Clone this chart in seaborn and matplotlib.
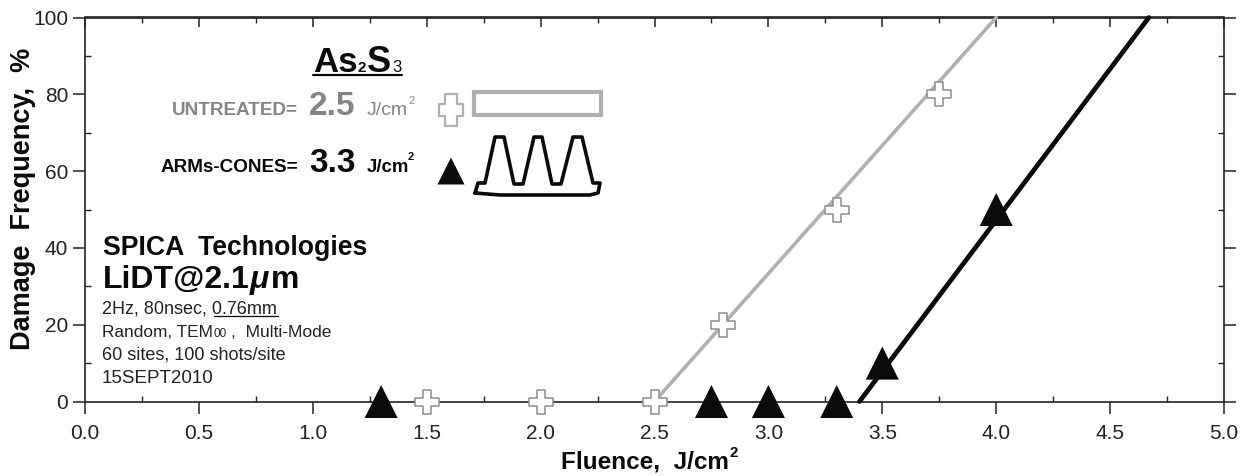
import matplotlib
matplotlib.use("Agg")
import matplotlib.pyplot as plt
import seaborn as sns
from matplotlib.patches import Rectangle
from matplotlib.path import Path

W, H = 1251, 476

# points
untreated_x = [1.5, 2.0, 2.5, 2.8, 3.3, 3.75]
untreated_y = [0, 0, 0, 20, 50, 80]
cones_x = [1.3, 2.75, 3.0, 3.3, 3.5, 4.0]
cones_y = [0, 0, 0, 0, 10, 50]

# straight fits
untreated_fit_x = [2.5, 4.0]
untreated_fit_y = [0, 100]
cones_fit_x = [3.4, 4.67]
cones_fit_y = [0, 100]

x_major = [0.0, 0.5, 1.0, 1.5, 2.0, 2.5, 3.0, 3.5, 4.0, 4.5, 5.0]
x_minor = [0.25, 0.75, 1.25, 1.75, 2.25, 2.75, 3.25, 3.75, 4.25, 4.75]
y_major = [0, 20, 40, 60, 80, 100]
y_minor = [10, 30, 50, 70, 90]

GRAY = "#b0b0b0"
GRAY_TEXT = "#858585"
BLACK = "#0a0a0a"

sns.set_style("ticks")
plt.rcParams["font.family"] = ["Liberation Sans", "DejaVu Sans"]

fig = plt.figure(figsize=(W / 100, H / 100), dpi=100)
ax = fig.add_axes([85 / W, 1 - 401.5 / H, (1224 - 85) / W, (401.5 - 17.5) / H])


def put(x, y, s, size, weight="normal", color=BLACK, **kw):
    # x, y are picture pixels, y is the text baseline
    return fig.text(x / W, 1 - y / H, s, fontsize=size, fontweight=weight, color=color,
                    va="baseline", ha=kw.pop("ha", "left"), **kw)


def rule(x0, x1, y, lw=1.0, color=BLACK):
    fig.add_artist(plt.Line2D([x0 / W, x1 / W], [1 - y / H, 1 - y / H], lw=lw, color=color))


# fits
sns.lineplot(x=untreated_fit_x, y=untreated_fit_y, color=GRAY, lw=2.6, ax=ax, zorder=3,
             errorbar=None, clip_on=False)
sns.lineplot(x=cones_fit_x, y=cones_fit_y, color=BLACK, lw=3.4, ax=ax, zorder=3,
             errorbar=None, clip_on=False)

# points
sns.scatterplot(x=untreated_x, y=untreated_y, marker="P", s=300, color="white", edgecolor="#959595",
                linewidth=1.2, ax=ax, zorder=5, clip_on=False)
sns.scatterplot(x=cones_x, y=cones_y, marker="^", s=566, color=BLACK, edgecolor="none",
                ax=ax, zorder=6, clip_on=False)

ax.set_xlim(0, 5)
ax.set_ylim(0, 100)
ax.set_xticks(x_major)
ax.set_xticks(x_minor, minor=True)
ax.set_yticks(y_major)
ax.set_yticks(y_minor, minor=True)
ax.set_xticklabels([f"{v:.1f}" for v in x_major])

ax.tick_params(axis="both", which="major", direction="out", length=8.5, width=1.1, labelsize=15,
               left=True, bottom=True, right=True, top=False, colors="#222222")
ax.tick_params(axis="x", which="major", pad=8)
ax.tick_params(which="minor", direction="in", length=4.5, width=1.0,
               left=True, bottom=True, right=True, top=False, color="#222222")
for side in ax.spines:
    ax.spines[side].set_linewidth(1.2)
    ax.spines[side].set_color("#222222")

# top axis has all its ticks pointing inwards
top = ax.secondary_xaxis("top")
top.set_xticks(x_major)
top.set_xticks(x_minor, minor=True)
top.tick_params(which="major", direction="in", length=7, width=1.1, labeltop=False, color="#222222")
top.tick_params(which="minor", direction="in", length=4.5, width=1.0, color="#222222")
top.spines["top"].set_linewidth(1.2)
top.spines["top"].set_color("#222222")

ax.set_ylabel("Damage  Frequency,  %", fontsize=19.5, fontweight="bold", color=BLACK)
ax.yaxis.set_label_coords((36 - 85) / (1224 - 85), (401.5 - 199) / 384)
put(561, 469, "Fluence,  J/cm", 17.5, "bold")
put(730, 457, "2", 11, "bold")

# title
put(313, 72, "As", 25, "bold")
put(357, 72, "2", 11, "bold")
put(367, 72, "S", 26, "bold")
put(392, 72, "3", 12)
rule(313, 402, 74.5, lw=1.6)

# legend rows
put(172, 115, "UNTREATED=", 13.6, "bold", GRAY_TEXT)
put(309, 115, "2.5", 24, "bold", GRAY_TEXT)
put(367, 115, "J/cm", 14, "normal", GRAY_TEXT)
put(408, 104, "2", 8, "normal", GRAY_TEXT)
put(161, 172, "ARMs-CONES=", 13.6, "bold")
put(309, 172, "3.3", 24, "bold")
put(367, 172, "J/cm", 13.4, "bold")
put(408, 160, "2", 8, "bold")

# legend keys, the cross is a bit taller than wide in the original
tall_cross = Path([(-2, -5.4), (2, -5.4), (2, -2), (4, -2), (4, 2), (2, 2),
                   (2, 5.4), (-2, 5.4), (-2, 2), (-4, 2), (-4, -2), (-2, -2), (-2, -5.4)],
                  closed=True)
ax.scatter([(451 - 85) / 227.8], [(401.5 - 110) / 3.84], marker=tall_cross, s=500, color="white",
           edgecolor=GRAY, linewidth=1.6, zorder=5)
ax.scatter([(451 - 85) / 227.8], [(401.5 - 171) / 3.84], marker="^", s=378, color=BLACK,
           edgecolor="none", zorder=5)

# sketches of the two surfaces
fig.add_artist(Rectangle((474 / W, 1 - 115 / H), 127 / W, 23 / H, transform=fig.transFigure,
                         facecolor="white", edgecolor=GRAY, lw=3))
cone_px_x = [475, 478, 485, 495, 504, 514, 523, 534, 542, 552, 561, 573, 582, 593, 600, 598, 590, 500, 475]
cone_px_y = [193, 183, 183, 137, 137, 184, 184, 137, 137, 184, 184, 137, 137, 183, 183, 193, 195, 195, 193]
fig.add_artist(plt.Line2D([v / W for v in cone_px_x], [1 - v / H for v in cone_px_y],
                          lw=2.6, color=BLACK, solid_joinstyle="round"))

# notes
put(103, 255, "SPICA  Technologies", 19.2, "bold")
put(103, 288, "LiDT@2.1", 23, "bold")
put(250, 288, "\u03bc", 23, "bold", style="italic")
put(271, 288, "m", 23, "bold")
put(102, 314, "2Hz, 80nsec, 0.76mm", 13, color="#222222")
rule(214, 278, 315.5, lw=0.9)
put(102, 337, "Random, TEM", 12.4, color="#222222")
put(213, 337, "00", 8.5, color="#222222")
put(231, 337, ",  Multi-Mode", 12.6, color="#222222")
put(102, 360, "60 sites, 100 shots/site", 13, color="#222222")
put(102, 383, "15SEPT2010", 13.5, color="#222222")

fig.savefig("out.png", dpi=100, facecolor="white")
plt.close(fig)
